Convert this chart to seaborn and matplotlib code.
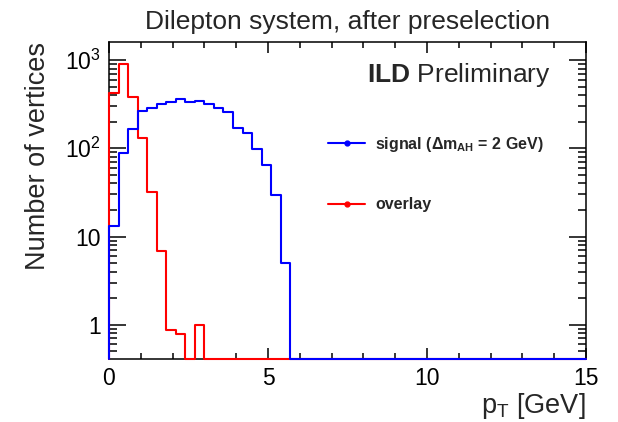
import numpy as np
import pandas as pd
import matplotlib
matplotlib.use("Agg")
import matplotlib.pyplot as plt
from matplotlib.lines import Line2D
from matplotlib.ticker import FixedLocator, LogLocator, NullFormatter, MultipleLocator
import seaborn as sns

# ---------------- data ----------------
bin_width = 0.3
n_bins = 50
signal_counts = [13.0, 88, 165, 267, 285, 316, 333, 363, 333, 347,
                 316, 285, 256, 169, 148, 98, 65, 29.4, 5.0] + [0] * 31
overlay_counts = [420, 900, 385, 130, 32, 6.8, 0.88, 0.79, 0, 1.0] + [0] * 40
series_names = ["signal", "overlay"]
series_colors = ["#0000ff", "#ff0000"]
ytick_values = [1, 10, 100, 1000]
ytick_labels = ["1", "10", r"$\mathregular{10^{2}}$", r"$\mathregular{10^{3}}$"]
xtick_values = [0, 5, 10, 15]
ymin, ymax = 0.41, 1600

# ---------------- style ----------------
sns.set_style("ticks")
plt.rcParams["font.family"] = ["Liberation Sans", "DejaVu Sans"]
plt.rcParams["mathtext.fontset"] = "custom"
plt.rcParams["mathtext.rm"] = "Liberation Sans"
plt.rcParams["mathtext.it"] = "Liberation Sans:italic"
plt.rcParams["mathtext.bf"] = "Liberation Sans:bold"

fig = plt.figure(figsize=(6.18, 4.22), dpi=100)
ax = fig.add_axes([109 / 618, 1 - 359 / 422, (586 - 109) / 618, (359 - 42) / 422])

edges = np.arange(n_bins + 1) * bin_width


def step_frame(counts, name):
    c = np.asarray(counts, dtype=float)
    c = np.where(c > 0, c, ymin)
    x = np.concatenate([[edges[0]], edges])
    y = np.concatenate([[ymin], c, [c[-1]]])
    return pd.DataFrame({"pt": x, "n": y, "series": name})


df = pd.concat([step_frame(overlay_counts, "overlay"),
                step_frame(signal_counts, "signal")], ignore_index=True)

for name, col in [("overlay", series_colors[1]), ("signal", series_colors[0])]:
    sns.lineplot(data=df[df.series == name], x="pt", y="n", ax=ax,
                 estimator=None, sort=False, drawstyle="steps-post",
                 color=col, linewidth=1.5, clip_on=False, zorder=3,
                 legend=False)

ax.set_yscale("log")
ax.set_xlim(0, 15)
ax.set_ylim(ymin, ymax)

ax.set_xticks(xtick_values)
ax.set_xticklabels([str(v) for v in xtick_values])
ax.xaxis.set_minor_locator(MultipleLocator(1))
ax.yaxis.set_major_locator(FixedLocator(ytick_values))
ax.set_yticklabels(ytick_labels)
ax.yaxis.set_minor_locator(LogLocator(base=10, subs=np.arange(2, 10)))
ax.yaxis.set_minor_formatter(NullFormatter())

ax.tick_params(axis="both", which="both", direction="in", top=True, right=True,
               colors="black", labelsize=16.5)
ax.tick_params(axis="x", which="major", length=8, width=1.1, pad=6)
ax.tick_params(axis="x", which="minor", length=4, width=1.1)
ax.tick_params(axis="y", which="major", length=12, width=1.1, pad=6)
ax.tick_params(axis="y", which="minor", length=6, width=1.1)
for s in ax.spines.values():
    s.set_linewidth(1.1)
    s.set_color("black")

ax.set_xlabel(r"p$_\mathregular{T}$ [GeV]", fontsize=19.5, ha="right", x=1.0,
              labelpad=0.5)
ax.set_ylabel("Number of vertices", fontsize=19.5, ha="right", y=1.0, labelpad=10)
ax.set_title("Dilepton system, after preselection", fontsize=19, pad=9)

ax.text(0.927, 0.874, r"$\mathbf{ILD}$ Preliminary", transform=ax.transAxes,
        ha="right", va="baseline", fontsize=19)

handles = [Line2D([0], [0], color=series_colors[0], lw=1.5, marker="o", markersize=3.5),
           Line2D([0], [0], color=series_colors[1], lw=1.5, marker="o", markersize=3.5)]
labels = [r"signal ($\mathbf{\Delta m_{AH}}$ = 2 GeV)", "overlay"]
leg = ax.legend(handles, labels, loc="upper left", bbox_to_anchor=(0.43, 0.752),
                frameon=False, prop={"weight": "bold", "size": 11.5},
                labelspacing=2.7, handlelength=2.3, handletextpad=0.63)

fig.savefig("out.png", dpi=100)
